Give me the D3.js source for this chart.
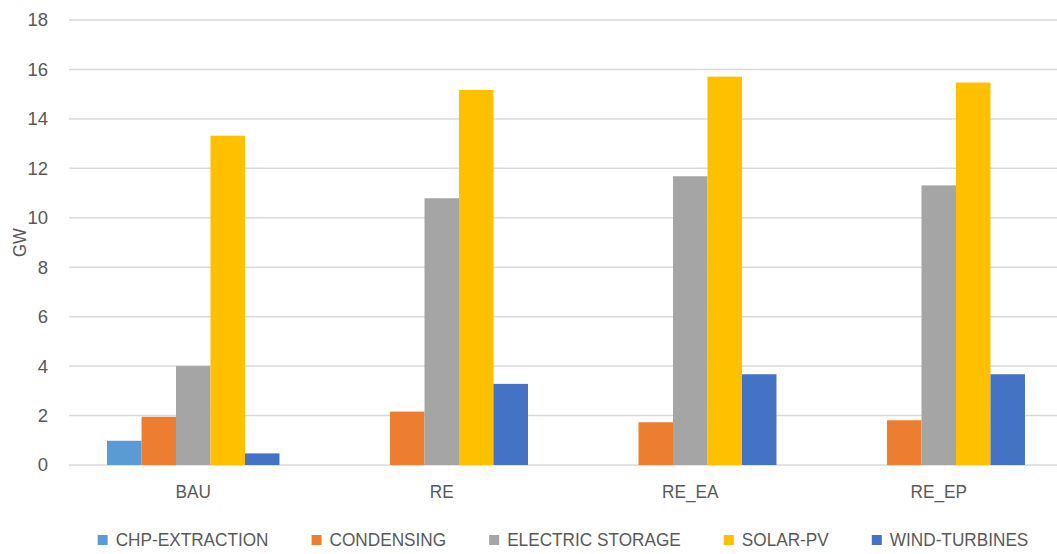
<!DOCTYPE html>
<html>
<head>
<meta charset="utf-8">
<script src="https://cdn.jsdelivr.net/npm/d3@7/dist/d3.min.js"></script>
<style>
  html, body { margin: 0; padding: 0; background: #fff; }
  svg { display: block; }
  text { font-family: "Liberation Sans", Arial, sans-serif; fill: #595959; }
</style>
</head>
<body>
<svg id="chart" width="1057" height="554"></svg>
<script>
const categories = ["BAU", "RE", "RE_EA", "RE_EP"];
const seriesNames = ["CHP-EXTRACTION", "CONDENSING", "ELECTRIC STORAGE", "SOLAR-PV", "WIND-TURBINES"];
const chpExtraction   = [0.98, 0, 0, 0];
const condensing      = [1.95, 2.16, 1.73, 1.81];
const electricStorage = [4.0, 10.79, 11.68, 11.31];
const solarPV         = [13.32, 15.17, 15.71, 15.47];
const windTurbines    = [0.47, 3.28, 3.67, 3.67];
const yTicks = [0, 2, 4, 6, 8, 10, 12, 14, 16, 18];
const colors = ["#5B9BD5", "#ED7D31", "#A5A5A5", "#FFC000", "#4472C4"];

const seriesValues = [chpExtraction, condensing, electricStorage, solarPV, windTurbines];

const svg = d3.select("#chart");
const plotLeft = 69, plotRight = 1063, plotTop = 20, plotBottom = 465;
const fs = 18.5, sx = 0.93;

const x0 = d3.scaleBand().domain(categories).range([plotLeft, plotRight]).paddingInner(0.306).paddingOuter(0.153);
const x1 = d3.scaleBand().domain(seriesNames).range([0, x0.bandwidth()]);
const y = d3.scaleLinear().domain([0, 18]).range([plotBottom, plotTop]);
const color = d3.scaleOrdinal().domain(seriesNames).range(colors);

// gridlines
svg.append("g").selectAll("line").data(yTicks).join("line")
  .attr("x1", plotLeft).attr("x2", plotRight)
  .attr("y1", d => y(d)).attr("y2", d => y(d))
  .attr("stroke", "#d9d9d9").attr("stroke-width", 1.5);

// y axis labels
const yAxis = d3.axisLeft(y).tickValues(yTicks).tickSize(0).tickPadding(0);
const yg = svg.append("g").attr("transform", `translate(${plotLeft - 21},0)`).call(yAxis);
yg.select(".domain").remove();
yg.selectAll("text").style("font-size", fs + "px").style("fill", "#595959")
  .style("font-family", '"Liberation Sans", sans-serif');

// y title
svg.append("text")
  .attr("transform", `translate(26,${(plotTop + plotBottom) / 2}) rotate(-90) scale(${sx},1)`)
  .attr("text-anchor", "middle")
  .style("font-size", "18px")
  .text("GW");

// bars
const rows = categories.map((c, i) => ({ cat: c, vals: seriesNames.map((s, j) => ({ s, v: seriesValues[j][i] })) }));
const groups = svg.append("g").selectAll("g").data(rows).join("g")
  .attr("transform", d => `translate(${x0(d.cat)},0)`);
groups.selectAll("rect").data(d => d.vals.filter(e => e.v > 0)).join("rect")
  .attr("x", d => x1(d.s))
  .attr("width", x1.bandwidth())
  .attr("y", d => y(d.v))
  .attr("height", d => y(0) - y(d.v))
  .attr("fill", d => color(d.s));

// x axis labels
const xAxis = d3.axisBottom(x0).tickSize(0).tickPadding(0);
const xg = svg.append("g").attr("transform", `translate(0,${plotBottom + 20})`).call(xAxis);
xg.select(".domain").remove();
xg.selectAll("text").style("font-size", fs + "px").style("fill", "#595959")
  .style("font-family", '"Liberation Sans", sans-serif')
  .attr("transform", `scale(${sx},1)`);

// legend
const legend = svg.append("g");
const sq = 10, gapIn = 8, gapOut = 43;
let cx = 0;
seriesNames.forEach((s, i) => {
  const g = legend.append("g").attr("transform", `translate(${cx},0)`);
  g.append("rect").attr("x", 0).attr("y", -sq / 2).attr("width", sq).attr("height", sq).attr("fill", colors[i]);
  const t = g.append("text").attr("transform", `translate(${sq + gapIn},0) scale(${sx},1)`).attr("dy", "0.35em")
    .style("font-size", fs + "px").text(s);
  cx += sq + gapIn + t.node().getComputedTextLength() * sx + gapOut;
});
const total = cx - gapOut;
legend.attr("transform", `translate(${563 - total / 2},540)`);
</script>
</body>
</html>
